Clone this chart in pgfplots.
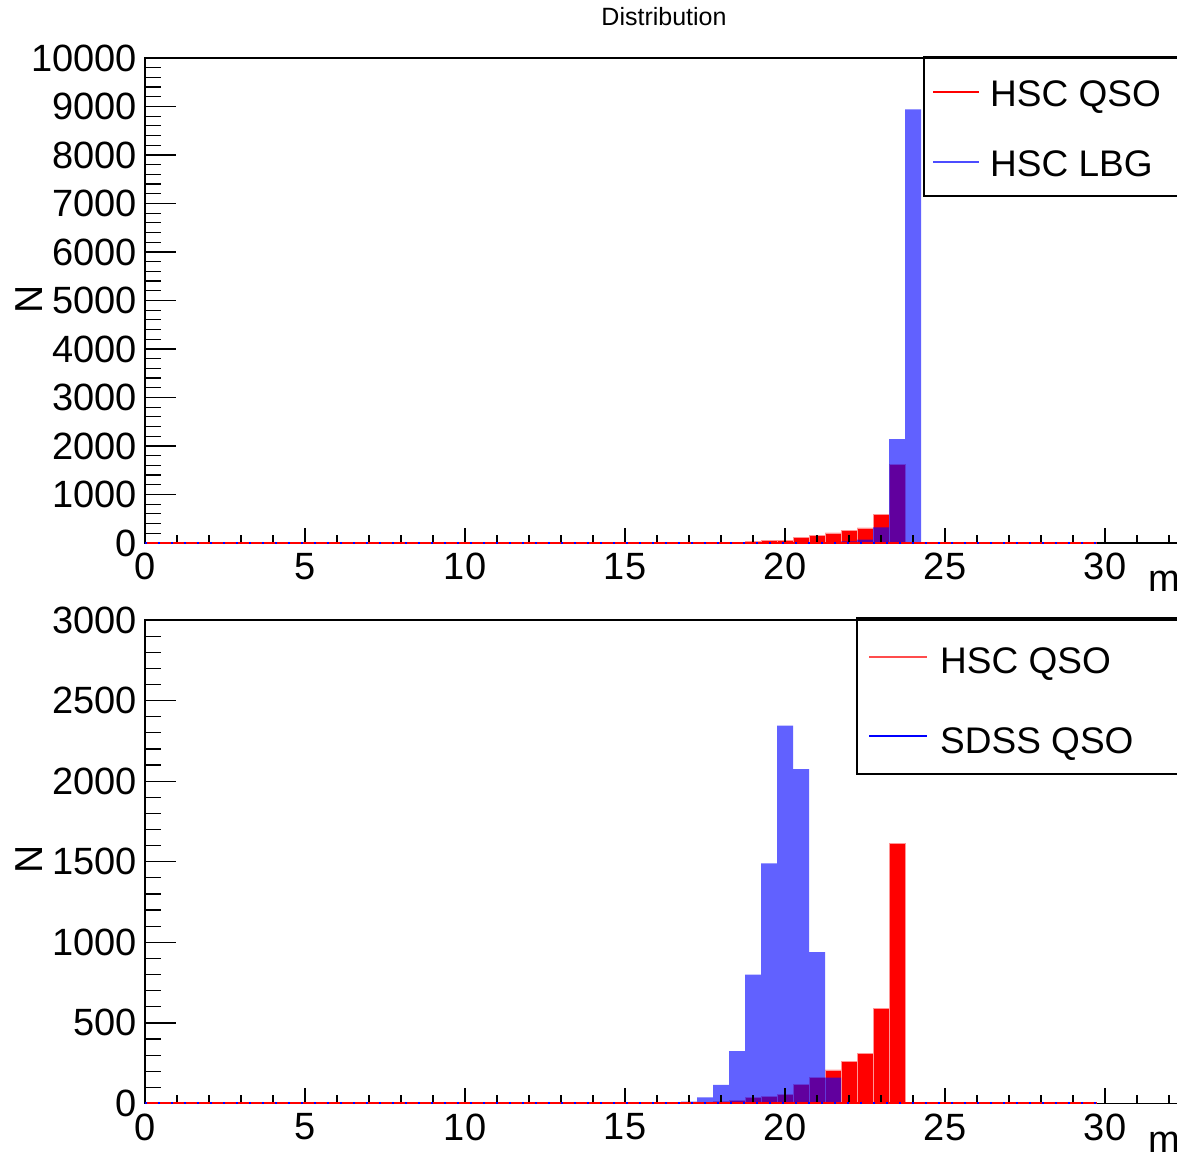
\documentclass[border=0pt]{standalone}
\usepackage{fontspec}
\setmainfont{Liberation Sans}
\usepackage{pgfplots}
\pgfplotsset{compat=1.18}

\pgfplotstableread{
x y
16.75 3
17.25 5
17.75 11
18.25 17
18.75 36
19.25 46
19.75 57
20.25 119
20.75 160
21.25 208
21.75 263
22.25 311
22.75 590
23.25 1613
23.75 0
}\hscqso

\pgfplotstableread{
x y
20.75 8
21.25 15
21.75 35
22.25 70
22.75 320
23.25 2144
23.75 8940
24.25 0
}\hsclbg

\pgfplotstableread{
x y
16.25 4
16.75 12
17.25 38
17.75 115
18.25 325
18.75 800
19.25 1490
19.75 2345
20.25 2075
20.75 940
21.25 160
21.75 0
}\sdssqso

\pgfplotsset{
  rootaxis/.style={
    set layers, axis on top,
    scale only axis, width=1040pt, xmin=0, xmax=32.5,
    axis line style={line width=1.2pt},
    tick style={line width=1.2pt, black},
    tick align=inside, tick pos=left,
    xtick={0,5,...,30}, minor xtick={0,1,...,32},
    xtick style={/pgfplots/major tick length=15pt, /pgfplots/minor tick length=8pt},
    ytick style={/pgfplots/major tick length=31pt, /pgfplots/minor tick length=16pt},
    ticklabel style={font=\fontsize{38}{42}\selectfont},
    /pgf/number format/assume math mode=true,
    /pgf/number format/1000 sep={},
    yticklabel style={inner sep=0pt, anchor=east, xshift=-8pt},
    xticklabel style={inner sep=0pt, anchor=north, yshift=-10pt},
    scaled y ticks=false,
  },
  redbars/.style={ybar interval, fill=red, draw={rgb,255:red,255;green,150;blue,150}, line width=0.7pt},
  bluebars/.style={const plot, fill=blue, fill opacity=0.62, draw=none},
  redbase/.style={on layer=axis foreground, red, line width=2pt},
  bluebase/.style={on layer=axis foreground, blue, line width=2pt, dash pattern=on 2pt off 11pt},
}

\begin{document}
\begin{tikzpicture}

% ---------------- top panel ----------------
\begin{axis}[rootaxis,
  at={(145pt,618pt)}, anchor=south west, height=485pt,
  ymin=0, ymax=10000,
  ytick={0,1000,...,10000}, minor ytick={0,200,...,10000},
]
\addplot[redbars] table[x=x,y=y] {\hscqso};
\addplot[bluebars] table[x=x,y=y] {\hsclbg} \closedcycle;
\addplot[redbase] coordinates {(0,0) (29.75,0)};
\addplot[bluebase] coordinates {(0,0) (29.75,0)};
\end{axis}

% ---------------- bottom panel ----------------
\begin{axis}[rootaxis,
  at={(145pt,57.5pt)}, anchor=south west, height=483.5pt,
  ymin=0, ymax=3000,
  ytick={0,500,...,3000}, minor ytick={0,100,...,3000},
]
\addplot[redbars] table[x=x,y=y] {\hscqso};
\addplot[bluebars] table[x=x,y=y] {\sdssqso} \closedcycle;
\addplot[redbase] coordinates {(0,0) (29.75,0)};
\addplot[bluebase] coordinates {(0,0) (29.75,0)};
\end{axis}

% title and axis labels
\node[font=\fontsize{25}{30}\selectfont, anchor=base] at (664pt,1135pt) {Distribution};
\node[font=\fontsize{39}{44}\selectfont, rotate=90, inner sep=0pt] at (29pt,862pt) {N};
\node[font=\fontsize{39}{44}\selectfont, rotate=90, inner sep=0pt] at (29pt,302pt) {N};
\node[font=\fontsize{38}{42}\selectfont, anchor=base west, inner sep=0pt] at (1148pt,569pt) {m};
\node[font=\fontsize{38}{42}\selectfont, anchor=base west, inner sep=0pt] at (1148pt,9pt) {m};

% legend top
\draw[line width=2.5pt, fill=white] (924pt,1104pt) rectangle (1200pt,965pt);
\draw[red, line width=1.5pt] (933pt,1069pt) -- (979pt,1069pt);
\draw[blue!70!white, line width=1.5pt] (933pt,999pt) -- (979pt,999pt);
\node[font=\fontsize{37}{42}\selectfont, anchor=base west, inner sep=0pt] at (990pt,1054.3pt) {HSC QSO};
\node[font=\fontsize{37}{42}\selectfont, anchor=base west, inner sep=0pt] at (990pt,984.3pt) {HSC LBG};

% legend bottom
\draw[line width=2.5pt, fill=white] (857pt,543pt) rectangle (1200pt,387pt);
\draw[red!70!white, line width=1.5pt] (869pt,504pt) -- (927pt,504pt);
\draw[blue, line width=1.5pt] (869pt,425pt) -- (927pt,425pt);
\node[font=\fontsize{37}{42}\selectfont, anchor=base west, inner sep=0pt] at (940pt,487pt) {HSC QSO};
\node[font=\fontsize{37}{42}\selectfont, anchor=base west, inner sep=0pt] at (940pt,407.7pt) {SDSS QSO};

\pgfresetboundingbox
\useasboundingbox (0pt,0pt) rectangle (1177pt,1161pt);
\end{tikzpicture}
\end{document}
